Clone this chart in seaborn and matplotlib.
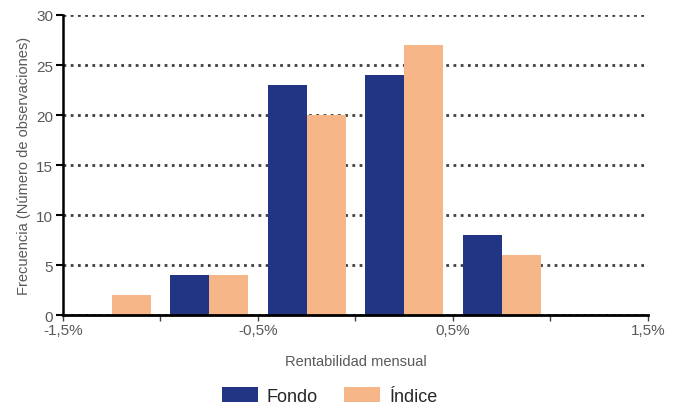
import pandas as pd
import numpy as np
import matplotlib.pyplot as plt
import seaborn as sns
from matplotlib.ticker import FixedLocator, FuncFormatter

# Datos
centros = [-1.25, -0.75, -0.25, 0.25, 0.75, 1.25]   # rentabilidad mensual (%)
fondo = [0, 4, 23, 24, 8, 0]
indice = [2, 4, 20, 27, 6, 0]
series = ["Fondo", "Índice"]
colores = ["#213584", "#F7B688"]

df = pd.DataFrame({
    "x": centros * 2,
    "freq": fondo + indice,
    "serie": [series[0]] * len(centros) + [series[1]] * len(centros),
})

sns.set_style("white")
plt.rcParams['font.family'] = ['Liberation Sans', 'DejaVu Sans']

fig = plt.figure(figsize=(6.77, 4.10), dpi=100)
ax = fig.add_axes([0.093, 0.229, 0.864, 0.732])

sns.barplot(data=df, x="x", y="freq", hue="serie", native_scale=True,
            palette=colores, hue_order=series, ax=ax, saturation=1,
            linewidth=0, zorder=3)

ax.set_xlim(-1.5, 1.5)
ax.set_ylim(0, 30)
ax.set_yticks(range(0, 31, 5))
ax.xaxis.set_major_locator(FixedLocator([-1.5, -0.5, 0.5, 1.5]))
ax.xaxis.set_minor_locator(FixedLocator([-1.0, 0.0, 1.0]))
ax.xaxis.set_major_formatter(FuncFormatter(lambda v, p: f"{v:.1f}%".replace(".", ",")))

gris = "#595959"
ax.tick_params(axis="y", left=True, length=5, width=1.5, color="black",
               labelsize=11, labelcolor=gris, pad=2)
ax.tick_params(axis="x", which="both", bottom=True, length=4, width=1,
               color="#404040", labelsize=11, labelcolor=gris, pad=2)

ax.yaxis.grid(True, linestyle=(0, (1, 1.6)), color="#404040", linewidth=2)
ax.set_axisbelow(True)
for s in ["top", "right"]:
    ax.spines[s].set_visible(False)
ax.spines["left"].set_color("black")
ax.spines["left"].set_linewidth(1.8)
ax.spines["bottom"].set_color("black")
ax.spines["bottom"].set_linewidth(2)
ax.spines["bottom"].set_zorder(5)

ax.set_xlabel("Rentabilidad mensual", fontsize=10.5, color=gris, labelpad=12)
ax.set_ylabel("Frecuencia (Número de observaciones)", fontsize=10.5, color=gris, labelpad=4)

handles, labels = ax.get_legend_handles_labels()
ax.get_legend().remove()
fig.legend(handles, labels, loc="center", bbox_to_anchor=(0.487, 0.032),
           ncol=2, frameon=False, fontsize=13, handlelength=2.0, handleheight=0.85,
           columnspacing=1.45, handletextpad=0.5, borderpad=0, borderaxespad=0)

plt.savefig("out.png", dpi=100)
